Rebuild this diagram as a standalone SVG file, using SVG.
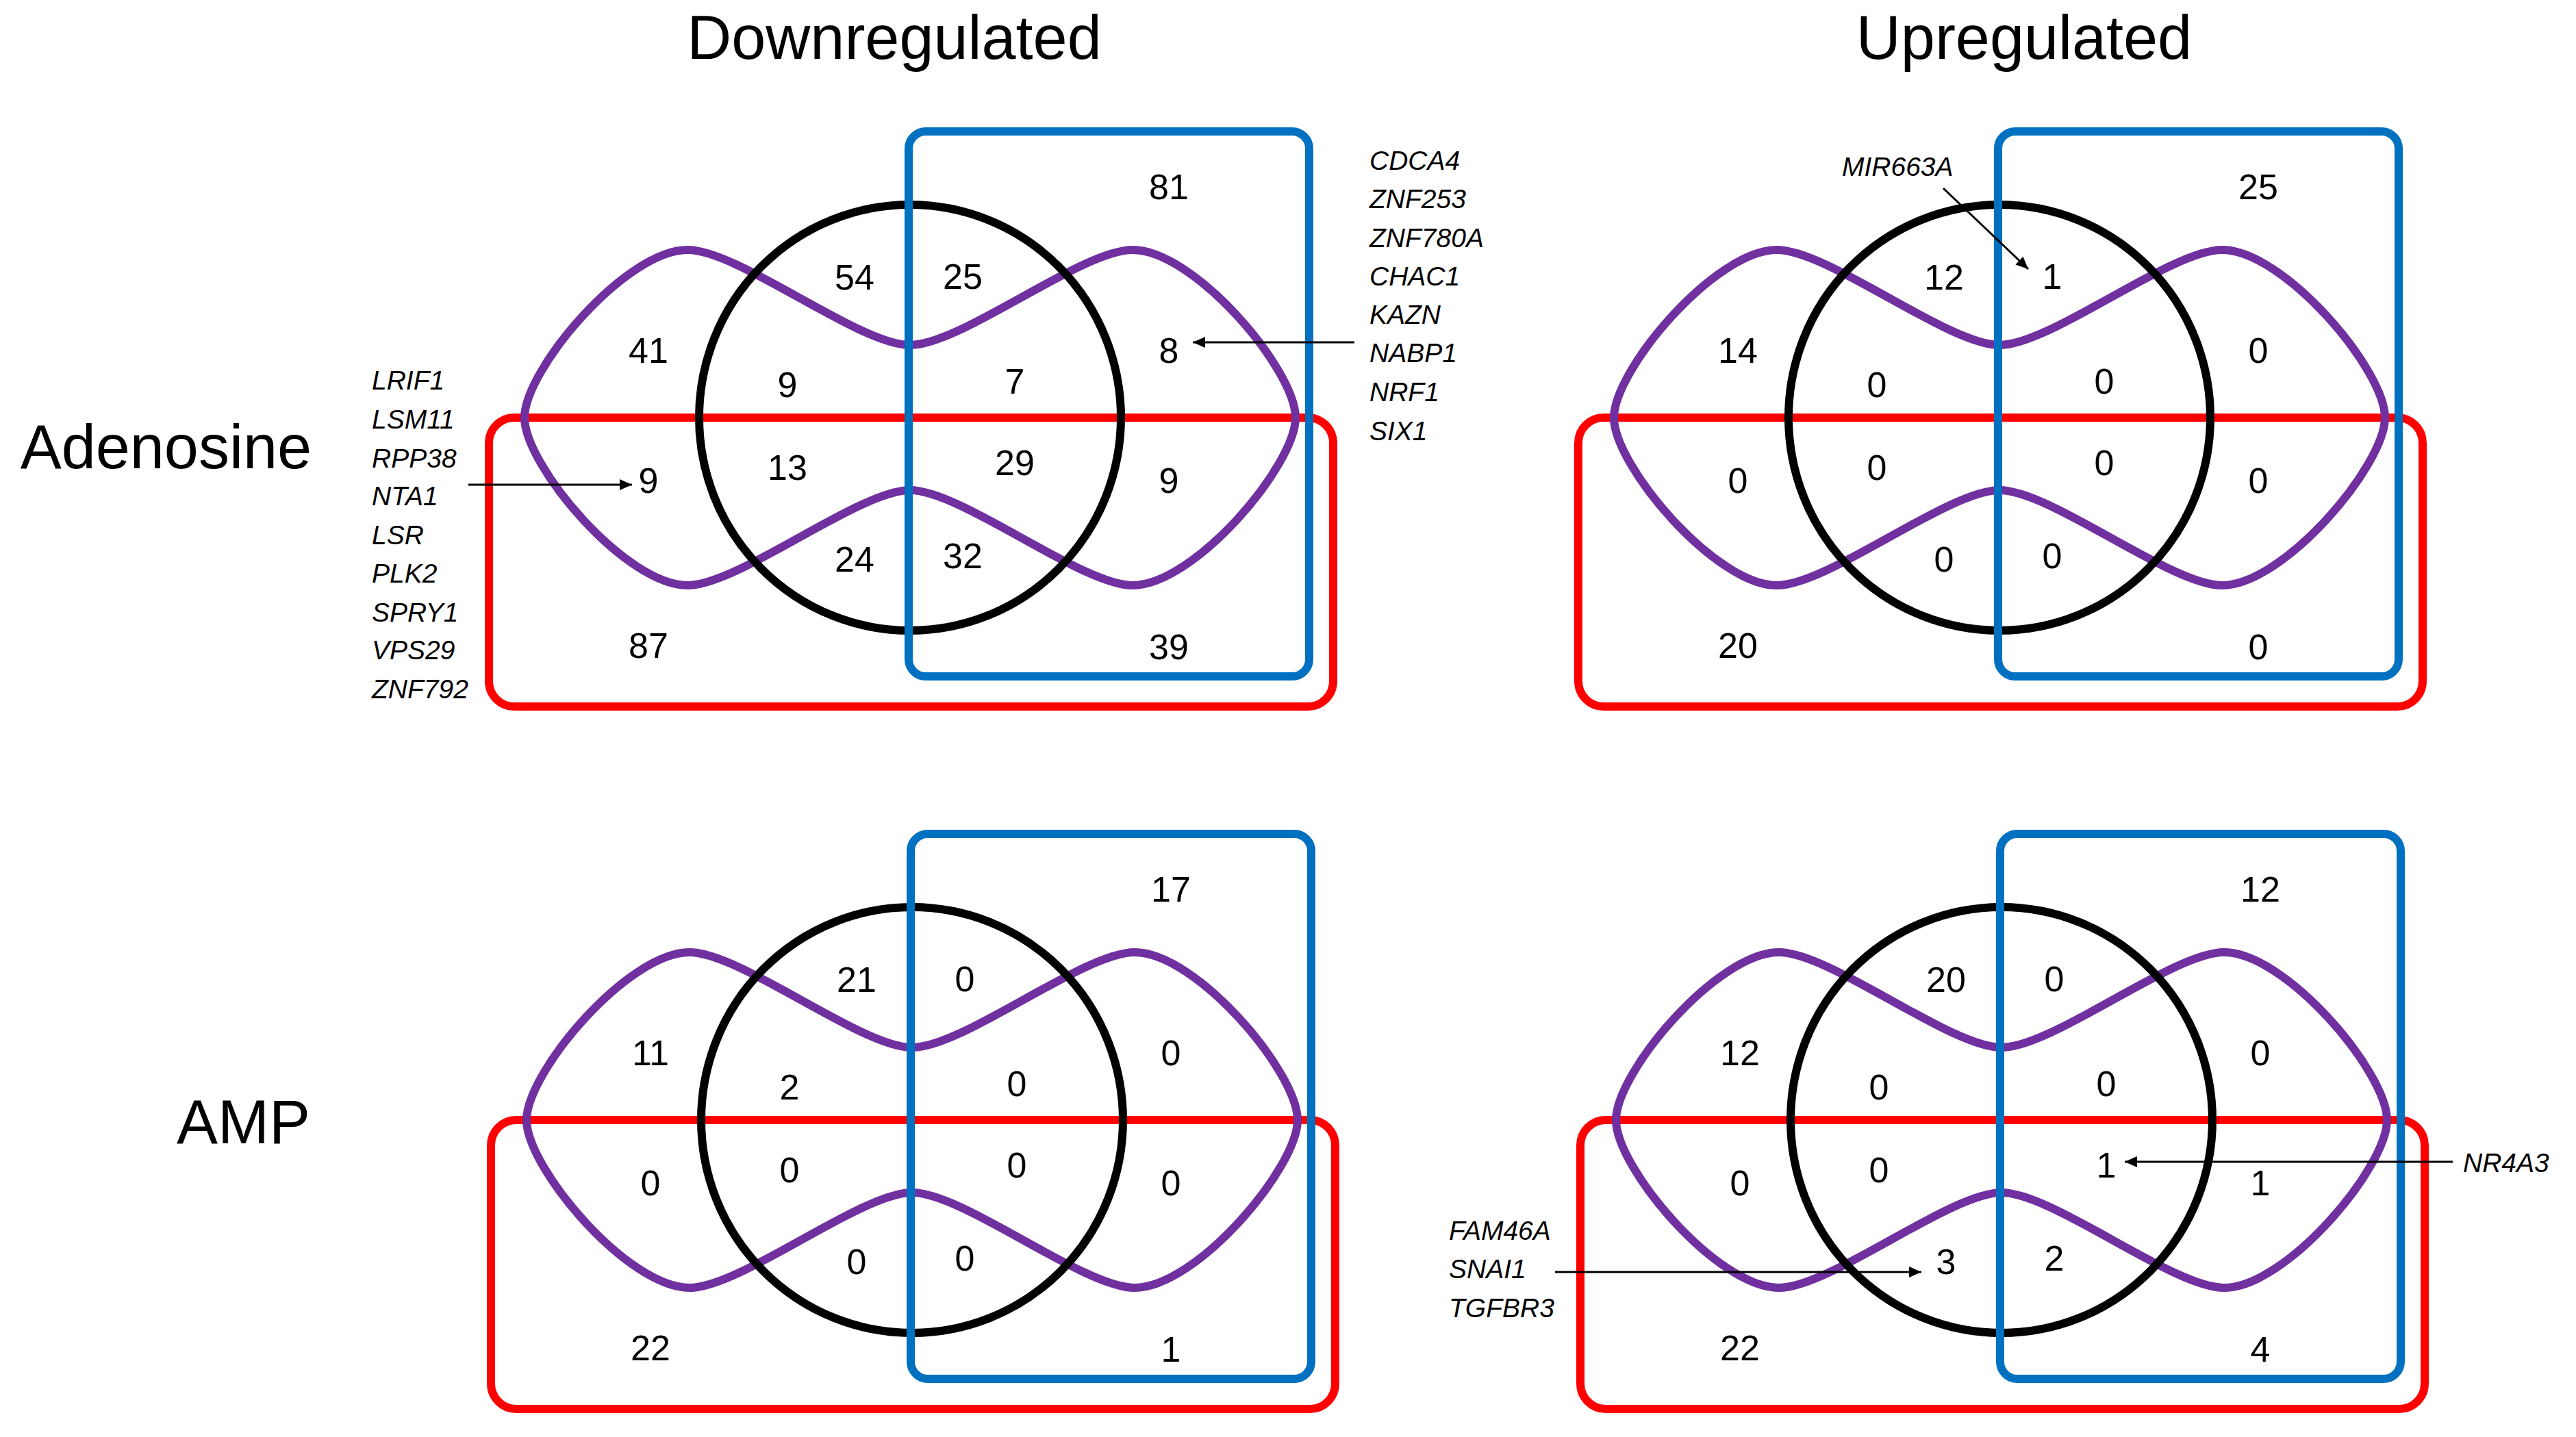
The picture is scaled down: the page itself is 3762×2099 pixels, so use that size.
<svg xmlns="http://www.w3.org/2000/svg" width="3762" height="2099" viewBox="0 0 3762 2099">
<style>
text{font-family:"Liberation Sans",Arial,sans-serif;fill:#000}
.title{font-size:90px}
.row{font-size:90px;text-anchor:end}
.num{font-size:52px;text-anchor:middle}
.gene{font-size:39px;font-style:italic}
.red{fill:none;stroke:#FF0000;stroke-width:12}
.blue{fill:none;stroke:#0070C0;stroke-width:12}
.circ{fill:none;stroke:#000;stroke-width:12}
.purp{fill:none;stroke:#7030A0;stroke-width:12}
.arr{fill:none;stroke:#000;stroke-width:3;marker-end:url(#ah)}
</style>
<defs>
<marker id="ah" markerUnits="userSpaceOnUse" markerWidth="20" markerHeight="18" refX="18" refY="8" orient="auto">
<path d="M0,0 L18,8 L0,16 Z" fill="#000"/>
</marker>
<path id="lobe" d="M-563,0 C-563,-70 -415,-245 -325,-245 C-250,-245 -75,-106 0,-106 C75,-106 250,-245 325,-245 C415,-245 563,-70 563,0 C563,70 415,245 325,245 C250,245 75,106 0,106 C-75,106 -250,245 -325,245 C-415,245 -563,70 -563,0 Z"/>
</defs>
<rect width="3762" height="2099" fill="#fff"/>

<g id="titles">
<text class="title" x="1306" y="86" text-anchor="middle">Downregulated</text>
<text class="title" x="2956" y="86" text-anchor="middle">Upregulated</text>
<text class="row" x="455" y="684">Adenosine</text>
<text class="row" x="453" y="1670">AMP</text>
</g>

<g id="panel-adenosine-down">
<g transform="translate(1329,610)">
<rect class="red" x="-615" y="0" width="1233" height="422" rx="37"/>
<use href="#lobe" class="purp"/>
<ellipse class="circ" cx="0" cy="0" rx="308" ry="311"/>
<rect class="blue" x="-2" y="-418" width="585" height="796" rx="25"/>
</g>
<text class="num" x="1707" y="291">81</text>
<text class="num" x="1248" y="423">54</text>
<text class="num" x="1406" y="422">25</text>
<text class="num" x="947" y="530">41</text>
<text class="num" x="1707" y="530">8</text>
<text class="num" x="1150" y="580">9</text>
<text class="num" x="1482" y="575">7</text>
<text class="num" x="1150" y="701">13</text>
<text class="num" x="1482" y="694">29</text>
<text class="num" x="947" y="720">9</text>
<text class="num" x="1707" y="720">9</text>
<text class="num" x="1248" y="835">24</text>
<text class="num" x="1406" y="830">32</text>
<text class="num" x="947" y="961">87</text>
<text class="num" x="1707" y="963">39</text>
</g>

<g id="panel-adenosine-up">
<g transform="translate(2920,610)">
<rect class="red" x="-615" y="0" width="1233" height="422" rx="37"/>
<use href="#lobe" class="purp"/>
<ellipse class="circ" cx="0" cy="0" rx="308" ry="311"/>
<rect class="blue" x="-2" y="-418" width="585" height="796" rx="25"/>
</g>
<text class="num" x="3298" y="291">25</text>
<text class="num" x="2839" y="423">12</text>
<text class="num" x="2997" y="422">1</text>
<text class="num" x="2538" y="530">14</text>
<text class="num" x="3298" y="530">0</text>
<text class="num" x="2741" y="580">0</text>
<text class="num" x="3073" y="575">0</text>
<text class="num" x="2741" y="701">0</text>
<text class="num" x="3073" y="694">0</text>
<text class="num" x="2538" y="720">0</text>
<text class="num" x="3298" y="720">0</text>
<text class="num" x="2839" y="835">0</text>
<text class="num" x="2997" y="830">0</text>
<text class="num" x="2538" y="961">20</text>
<text class="num" x="3298" y="963">0</text>
</g>

<g id="panel-amp-down">
<g transform="translate(1332,1636)">
<rect class="red" x="-615" y="0" width="1233" height="422" rx="37"/>
<use href="#lobe" class="purp"/>
<ellipse class="circ" cx="0" cy="0" rx="308" ry="311"/>
<rect class="blue" x="-2" y="-418" width="585" height="796" rx="25"/>
</g>
<text class="num" x="1710" y="1317">17</text>
<text class="num" x="1251" y="1449">21</text>
<text class="num" x="1409" y="1448">0</text>
<text class="num" x="950" y="1556">11</text>
<text class="num" x="1710" y="1556">0</text>
<text class="num" x="1153" y="1606">2</text>
<text class="num" x="1485" y="1601">0</text>
<text class="num" x="1153" y="1727">0</text>
<text class="num" x="1485" y="1720">0</text>
<text class="num" x="950" y="1746">0</text>
<text class="num" x="1710" y="1746">0</text>
<text class="num" x="1251" y="1861">0</text>
<text class="num" x="1409" y="1856">0</text>
<text class="num" x="950" y="1987">22</text>
<text class="num" x="1710" y="1989">1</text>
</g>

<g id="panel-amp-up">
<g transform="translate(2923,1636)">
<rect class="red" x="-615" y="0" width="1233" height="422" rx="37"/>
<use href="#lobe" class="purp"/>
<ellipse class="circ" cx="0" cy="0" rx="308" ry="311"/>
<rect class="blue" x="-2" y="-418" width="585" height="796" rx="25"/>
</g>
<text class="num" x="3301" y="1317">12</text>
<text class="num" x="2842" y="1449">20</text>
<text class="num" x="3000" y="1448">0</text>
<text class="num" x="2541" y="1556">12</text>
<text class="num" x="3301" y="1556">0</text>
<text class="num" x="2744" y="1606">0</text>
<text class="num" x="3076" y="1601">0</text>
<text class="num" x="2744" y="1727">0</text>
<text class="num" x="3076" y="1720">1</text>
<text class="num" x="2541" y="1746">0</text>
<text class="num" x="3301" y="1746">1</text>
<text class="num" x="2842" y="1861">3</text>
<text class="num" x="3000" y="1856">2</text>
<text class="num" x="2541" y="1987">22</text>
<text class="num" x="3301" y="1989">4</text>
</g>

<g id="genes-adenosine-down-left">
<text class="gene" x="543" y="569">LRIF1</text>
<text class="gene" x="543" y="626">LSM11</text>
<text class="gene" x="543" y="683">RPP38</text>
<text class="gene" x="543" y="738">NTA1</text>
<text class="gene" x="543" y="795">LSR</text>
<text class="gene" x="543" y="851">PLK2</text>
<text class="gene" x="543" y="908">SPRY1</text>
<text class="gene" x="543" y="963">VPS29</text>
<text class="gene" x="543" y="1020">ZNF792</text>
</g>
<g id="genes-adenosine-down-right">
<text class="gene" x="2000" y="248">CDCA4</text>
<text class="gene" x="2000" y="304">ZNF253</text>
<text class="gene" x="2000" y="361">ZNF780A</text>
<text class="gene" x="2000" y="417">CHAC1</text>
<text class="gene" x="2000" y="473">KAZN</text>
<text class="gene" x="2000" y="529">NABP1</text>
<text class="gene" x="2000" y="586">NRF1</text>
<text class="gene" x="2000" y="643">SIX1</text>
</g>
<g id="genes-adenosine-up">
<text class="gene" x="2690" y="257">MIR663A</text>
</g>
<g id="genes-amp-up-right">
<text class="gene" x="3597" y="1712">NR4A3</text>
</g>
<g id="genes-amp-up-left">
<text class="gene" x="2116" y="1811">FAM46A</text>
<text class="gene" x="2116" y="1867">SNAI1</text>
<text class="gene" x="2116" y="1924">TGFBR3</text>
</g>

<g id="connectors">
<line class="arr" x1="684" y1="708" x2="923" y2="708"/>
<line class="arr" x1="1978" y1="500" x2="1742" y2="500"/>
<line class="arr" x1="2838" y1="275" x2="2962" y2="393"/>
<line class="arr" x1="3582" y1="1697" x2="3103" y2="1697"/>
<line class="arr" x1="2271" y1="1858" x2="2806" y2="1858"/>
</g>
</svg>
